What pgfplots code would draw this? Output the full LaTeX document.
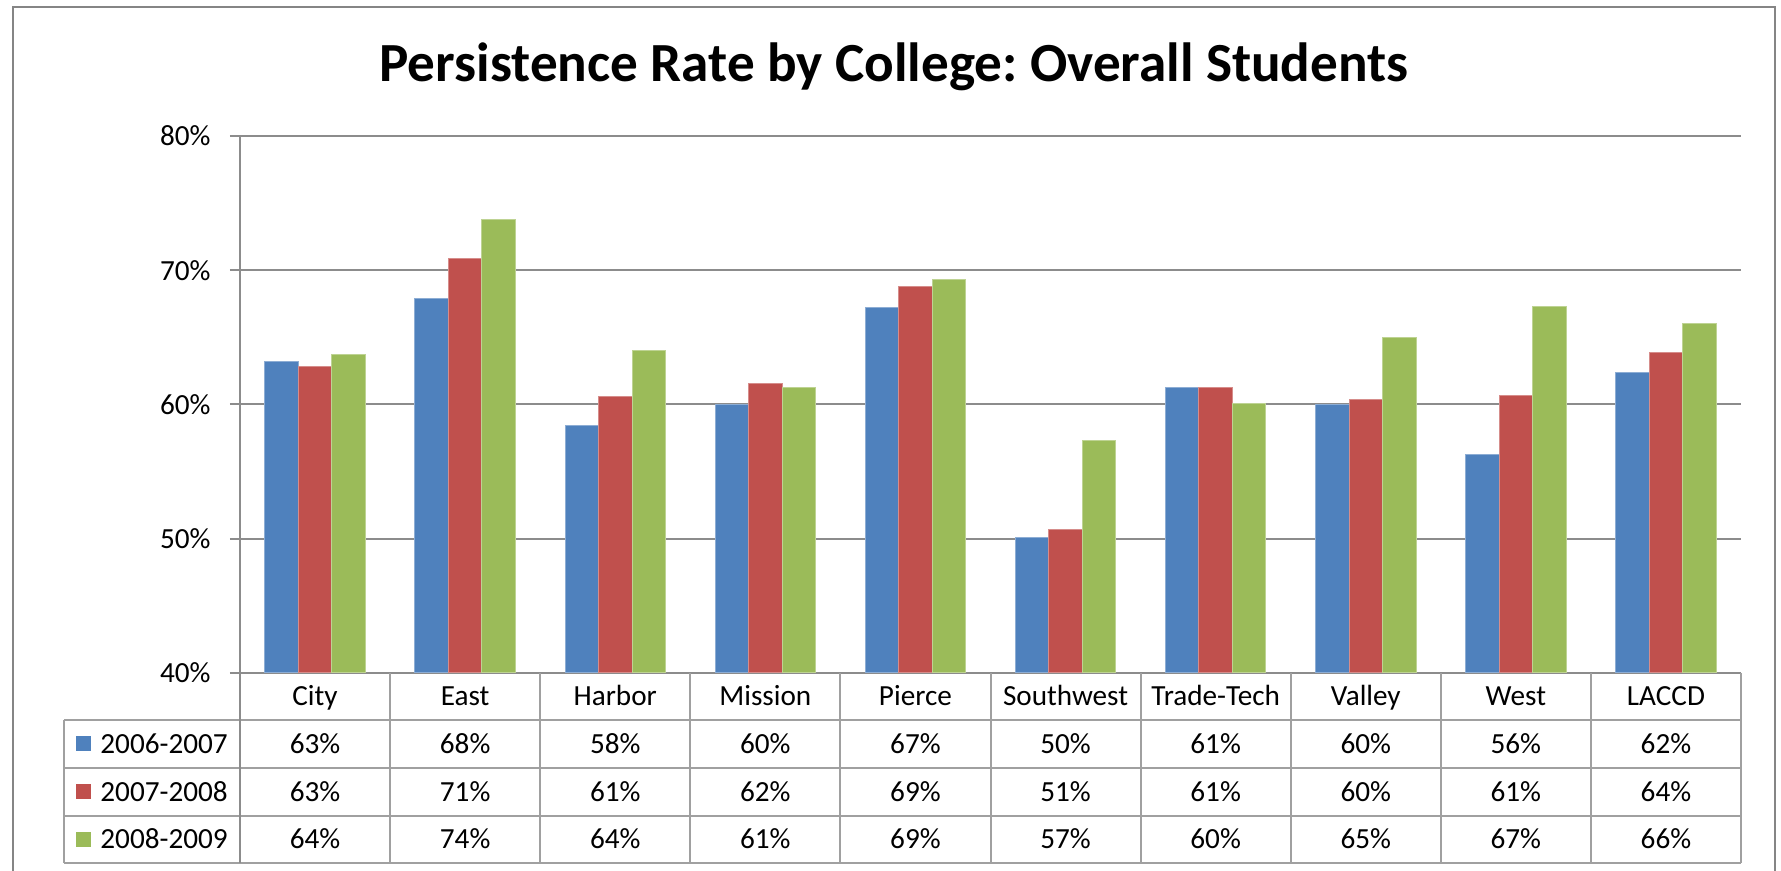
\documentclass[border=0pt]{standalone}
\usepackage{fontspec}
\setmainfont{Carlito}
\usepackage{pgfplots}
\usepackage{pgfplotstable}
\pgfplotsset{compat=1.18}
\frenchspacing

\definecolor{s1}{HTML}{4F81BD}
\definecolor{s2}{HTML}{C0504D}
\definecolor{s3}{HTML}{9BBB59}
\definecolor{gridgray}{HTML}{8C8C8C}
\definecolor{tabgray}{HTML}{A0A0A0}
\definecolor{framegray}{HTML}{858585}
\newcommand\tabfont{\fontsize{14.6}{17}\selectfont}

% persistence rate (%) by college, one column per year
\pgfplotstableread{
x name a b c
0 City 63.2 62.8 63.7
1 East 67.9 70.9 73.8
2 Harbor 58.4 60.6 64.0
3 Mission 60.0 61.6 61.3
4 Pierce 67.2 68.8 69.3
5 Southwest 50.1 50.7 57.3
6 Trade-Tech 61.3 61.3 60.1
7 Valley 60.0 60.4 65.0
8 West 56.3 60.7 67.3
9 LACCD 62.4 63.9 66.0
}\data

\begin{document}
\begin{tikzpicture}[x=1pt,y=1pt]
\begin{axis}[
  at={(0,0)}, anchor=south west,
  scale only axis, width=750.5pt, height=268.5pt,
  xmin=-0.5, xmax=9.5, ymin=40, ymax=80,
  ybar=0pt, bar width=16.75pt,
  axis x line*=bottom, axis y line*=left,
  axis line style={draw=gridgray, line width=1pt},
  tick align=outside, major tick length=5pt,
  ytick={40,50,60,70,80},
  yticklabels={40\%,50\%,60\%,70\%,80\%},
  ytick style={draw=gridgray, line width=1pt},
  xtick=data, xtick style={draw=none},
  xticklabels from table={\data}{name},
  tick label style={font=\tabfont},
  yticklabel style={anchor=east, inner sep=0pt, xshift=-9.5pt},
  xticklabel style={anchor=base, inner sep=0pt, yshift=-11.5pt},
  ymajorgrids, grid style={draw=gridgray, line width=1pt},
]
\addplot[fill=s1, draw=s1!65!white, line width=0.5pt] table[x=x, y=a] {\data};
\addplot[fill=s2, draw=s2!65!white, line width=0.5pt] table[x=x, y=b] {\data};
\addplot[fill=s3, draw=s3!65!white, line width=0.5pt] table[x=x, y=c] {\data};
\end{axis}

% data table below the plot
\begin{scope}[draw=tabgray, line width=1pt]
  \foreach \yy in {-23.5,-47.5,-71.5,-95} \draw (-88,\yy) -- (750.5,\yy);
  \draw (-88,-23.5) -- (-88,-95);
  \foreach \k in {1,...,10} \draw ({75.05*\k},0) -- ({75.05*\k},-95);
\end{scope}
\draw[gridgray, line width=1pt] (0,0) -- (0,-95);

\foreach \i in {0,...,9} {
  \foreach \c/\yb in {a/-40.25,b/-64.25,c/-88} {
    \pgfplotstablegetelem{\i}{\c}\of\data
    \node[anchor=base, inner sep=0pt, font=\tabfont] at ({75.05*(\i+0.5)}, \yb)
      {\pgfmathprintnumber[fixed,precision=0,assume math mode=true]{\pgfplotsretval}\%};
  }
}

% legend keys in the first column
\foreach \col/\yc/\yb/\lab in {s1/-35.25/-40.25/2006-2007, s2/-59.25/-64.25/2007-2008, s3/-83.25/-88/2008-2009} {
  \fill[\col] (-82,\yc-3.75) rectangle ++(7.5,7.5);
  \node[anchor=base west, inner sep=0pt, font=\tabfont] at (-70,\yb) {\lab};
}

\node[anchor=base, font=\bfseries\fontsize{27.6}{31}\selectfont] at (327,295.5)
  {Persistence Rate by College: Overall Students};

\draw[framegray, line width=1.3pt] (-113.5,-120) -- (-113.5,333) -- (767.5,333) -- (767.5,-120);

\pgfresetboundingbox
\path[use as bounding box] (-120,-99) rectangle (770.5,336.5);
\end{tikzpicture}
\end{document}
